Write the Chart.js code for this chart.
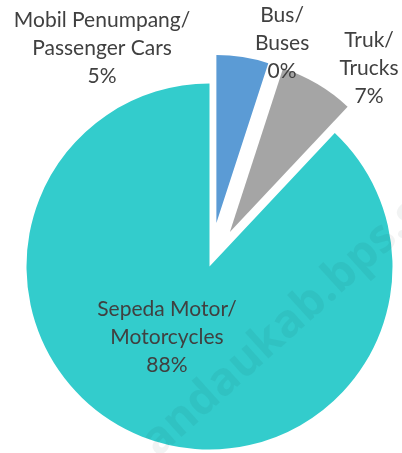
<!DOCTYPE html>
<html>
<head>
<meta charset="utf-8">
<script src="https://cdn.jsdelivr.net/npm/chart.js@4.4.1/dist/chart.umd.min.js"></script>
<style>
  html, body { margin: 0; padding: 0; background: #fff; }
  #wrap { width: 402px; height: 453px; }
</style>
</head>
<body>
<div id="wrap"><canvas id="pie" width="402" height="453"></canvas></div>
<script>
/* ── Data ───────────────────────────────────────────── */
const namesId = ["Mobil Penumpang", "Bus", "Truk", "Sepeda Motor"];
const namesEn = ["Passenger Cars", "Buses", "Trucks", "Motorcycles"];
const shares = [5, 0, 7, 88];
const watermark = "andaukab.bps.go.id";

/* ── Style ──────────────────────────────────────────── */
const COLOURS = ["#5B9BD5", "#FFC000", "#A5A5A5", "#33CCCC"];
const EXPLODE = [44, 0, 40, 0];          // px each slice is pulled out
const SLICE_SCALE = [0.918, 1, 0.94, 1]; // exploded slices are drawn a bit smaller
const LABEL_RADIUS = [1.33, 1.283, 1.391, 0.45];
const LABEL_TURN = [-35.2, 0, 8.2, 9.5]; // degrees, nudges label off the mid-angle
const FONT = '21px Lato, "Open Sans", sans-serif';
const TEXT_COLOUR = "#404040";
const LINE_H = 28;

const total = shares.reduce((a, b) => a + b, 0);

function pieCentre(chart) {
  const a = chart.chartArea;
  return { x: (a.left + a.right) / 2, y: (a.top + a.bottom) / 2 };
}

/* Pull slices out and shrink them, like Excel's exploded pie */
const explodePlugin = {
  id: "explode",
  beforeDatasetDraw(chart, args) {
    const meta = args.meta;
    const c = pieCentre(chart);
    const R = meta.controller.outerRadius;
    meta.data.forEach((arc, i) => {
      const mid = (arc.startAngle + arc.endAngle) / 2;
      arc.x = c.x + Math.cos(mid) * EXPLODE[i];
      arc.y = c.y + Math.sin(mid) * EXPLODE[i];
      arc.outerRadius = R * SLICE_SCALE[i];
    });
  },
};

/* Watermark + data labels */
const labelPlugin = {
  id: "labels",
  afterDatasetsDraw(chart) {
    const ctx = chart.ctx;
    const meta = chart.getDatasetMeta(0);
    const c = pieCentre(chart);
    const R = meta.controller.outerRadius;

    // faint watermark across the pie
    ctx.save();
    ctx.translate(158, 458);
    ctx.rotate(-42 * Math.PI / 180);
    ctx.font = 'bold 46px "Open Sans", sans-serif';
    ctx.fillStyle = "rgba(0,40,40,0.055)";
    ctx.textBaseline = "alphabetic";
    ctx.textAlign = "left";
    ctx.fillText(watermark, 0, 0);
    ctx.restore();

    ctx.save();
    ctx.font = FONT;
    ctx.fillStyle = TEXT_COLOUR;
    ctx.textAlign = "center";
    ctx.textBaseline = "middle";
    meta.data.forEach((arc, i) => {
      const mid = (arc.startAngle + arc.endAngle) / 2 + LABEL_TURN[i] * Math.PI / 180;
      const x = c.x + Math.cos(mid) * R * LABEL_RADIUS[i];
      const y = c.y + Math.sin(mid) * R * LABEL_RADIUS[i];
      const pct = Math.round(shares[i] / total * 100) + "%";
      const lines = [namesId[i] + "/", namesEn[i], pct];
      lines.forEach((t, k) => ctx.fillText(t, x, y + (k - 1) * LINE_H));
    });
    ctx.restore();
  },
};

new Chart(document.getElementById("pie"), {
  type: "pie",
  data: {
    labels: namesEn,
    datasets: [{
      data: shares,
      backgroundColor: COLOURS,
      borderWidth: 0,
    }],
  },
  options: {
    responsive: false,
    animation: false,
    events: [],
    radius: 183,
    layout: { padding: { top: 80, left: 17, right: 0, bottom: 0 } },
    plugins: {
      legend: { display: false },
      tooltip: { enabled: false },
    },
  },
  plugins: [explodePlugin, labelPlugin],
});
</script>
</body>
</html>
